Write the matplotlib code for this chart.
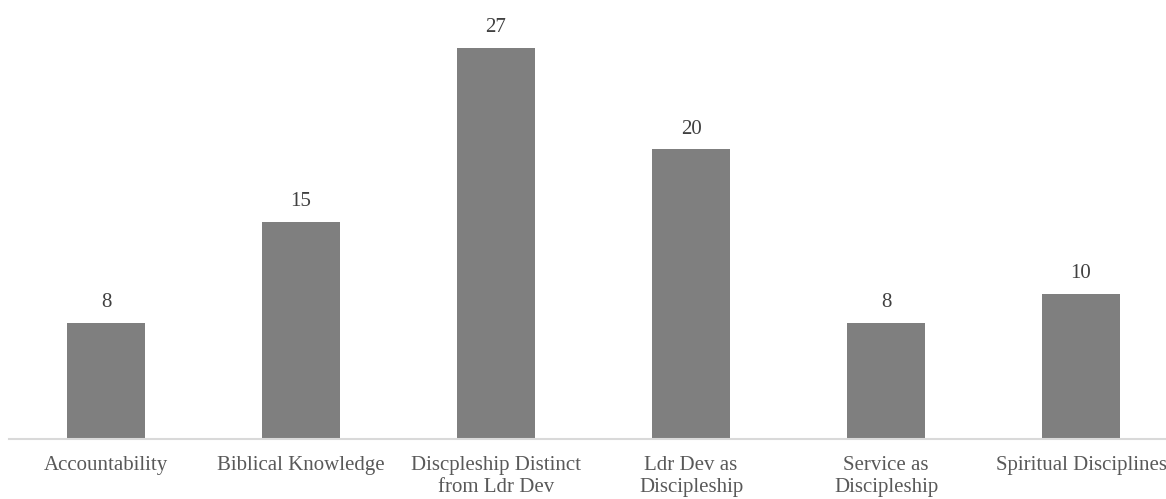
import matplotlib.pyplot as plt

plt.rcParams['font.family'] = ['Liberation Serif', 'DejaVu Serif']

# categories and counts
categories = ['Accountability', 'Biblical Knowledge', 'Discpleship Distinct\nfrom Ldr Dev',
              'Ldr Dev as\nDiscipleship', 'Service as\nDiscipleship', 'Spiritual Disciplines']
counts = [8, 15, 27, 20, 8, 10]

fig = plt.figure(figsize=(11.66, 4.99), dpi=100)
# plot area runs a bit past the right edge (last label is clipped in the original)
ax = fig.add_axes([8.5 / 1166, 60.3 / 499, 1170 / 1166, 438.7 / 499])

x = range(len(categories))
bars = ax.bar(x, counts, width=0.4, color='#7f7f7f', zorder=2)

for xi, v in zip(x, counts):
    ax.annotate(str(v), (xi, v), xytext=(0, 7.5), textcoords='offset points',
                ha='center', va='bottom', fontsize=15, color='#404040')

ax.set_xlim(-0.5, 5.5)
ax.set_ylim(0, 30.3)
ax.set_xticks(list(x))
ax.set_xticklabels(categories, fontsize=15, color='#595959', linespacing=1.18)
ax.tick_params(axis='x', length=0, pad=12.5)
ax.set_yticks([])
for s in ['top', 'right', 'left']:
    ax.spines[s].set_visible(False)
ax.spines['bottom'].set_color('#d9d9d9')
ax.spines['bottom'].set_linewidth(1.5)

fig.savefig('out.png', dpi=100)
